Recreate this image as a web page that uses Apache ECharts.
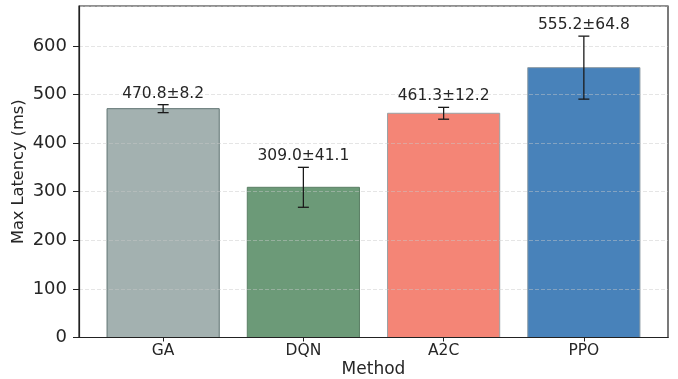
<!DOCTYPE html>
<html>
<head>
<meta charset="utf-8">
<script src="https://cdn.jsdelivr.net/npm/echarts@6/dist/echarts.min.js"></script>
<style>
html,body{margin:0;padding:0;background:#fff;}
#chart{width:678px;height:379px;}
</style>
</head>
<body>
<div id="chart"></div>
<script>
const categories = ['GA', 'DQN', 'A2C', 'PPO'];
const means = [470.8, 309.0, 461.3, 555.2];
const stds = [8.2, 41.1, 12.2, 64.8];
const barColors = ['#a3b1b0', '#6c9a78', '#f48576', '#4882ba'];
const borderColors = ['#5f7472', '#5b7f65', '#9aa2a5', '#8d9ba4'];
const yTicks = [0, 100, 200, 300, 400, 500, 600];

const FONT = 'DejaVu Sans';
const TXT = '#262626';

const data = categories.map((c, i) => [i, means[i], stds[i]]);

const chart = echarts.init(document.getElementById('chart'), null, {renderer: 'canvas'});

chart.setOption({
  animation: false,
  backgroundColor: '#fff',
  grid: {left: 79, right: 10, top: 6, bottom: 41.5, show: true, borderColor: '#222', borderWidth: 1.2,
    backgroundColor: 'transparent', containLabel: false, outerBoundsMode: 'none'},
  xAxis: {
    type: 'value', min: -0.6, max: 3.6, z: 11,
    name: 'Method', nameLocation: 'middle', nameGap: 24, nameMoveOverlap: false,
    nameTextStyle: {fontFamily: FONT, fontSize: 17, color: TXT},
    axisLine: {show: true, onZero: false, lineStyle: {color: '#222', width: 1.2}},
    axisTick: {show: true, customValues: [0, 1, 2, 3], length: 4, lineStyle: {color: '#222'}},
    axisLabel: {customValues: [0, 1, 2, 3], formatter: v => categories[Math.round(v)] || '', fontFamily: FONT, fontSize: 15.5, color: TXT, margin: 5},
    splitLine: {show: false}
  },
  yAxis: {
    type: 'value', min: 0, max: 682, interval: 100, z: 10,
    name: 'Max Latency (ms)', nameLocation: 'middle', nameGap: 52, nameMoveOverlap: false,
    nameTextStyle: {fontFamily: FONT, fontSize: 16.2, color: TXT},
    axisLine: {show: true, onZero: false, lineStyle: {color: '#222', width: 1.2}},
    axisTick: {show: true, length: 6, lineStyle: {color: '#222'}},
    axisLabel: {fontFamily: FONT, fontSize: 18, color: TXT, margin: 12, showMaxLabel: false,
      formatter: v => yTicks.indexOf(v) >= 0 ? String(v) : ''},
    splitLine: {show: true, lineStyle: {color: 'rgba(200,200,200,0.6)', width: 0.8, type: [4, 2]}}
  },
  series: [
    {
      type: 'custom', z: 2,
      data: data,
      renderItem: (params, api) => {
        const x = api.value(0), m = api.value(1);
        const p0 = api.coord([x - 0.4, m]);
        const p1 = api.coord([x + 0.4, 0]);
        const i = params.dataIndex;
        return {
          type: 'rect',
          shape: {x: p0[0], y: p0[1], width: p1[0] - p0[0], height: p1[1] - p0[1]},
          style: {fill: barColors[i], stroke: borderColors[i], lineWidth: 1}
        };
      }
    },
    {
      type: 'custom', z: 12,
      data: data,
      renderItem: (params, api) => {
        const x = api.value(0), m = api.value(1), s = api.value(2);
        const hi = api.coord([x, m + s]);
        const lo = api.coord([x, m - s]);
        const cw = 5.5;
        const ls = {stroke: '#1a1a1a', lineWidth: 1.3};
        return {
          type: 'group',
          children: [
            {type: 'line', shape: {x1: hi[0], y1: hi[1], x2: lo[0], y2: lo[1]}, style: ls},
            {type: 'line', shape: {x1: hi[0] - cw, y1: hi[1], x2: hi[0] + cw, y2: hi[1]}, style: ls},
            {type: 'line', shape: {x1: lo[0] - cw, y1: lo[1], x2: lo[0] + cw, y2: lo[1]}, style: ls},
            {type: 'text', x: hi[0], y: hi[1] - 3,
              style: {text: means[params.dataIndex].toFixed(1) + '±' + stds[params.dataIndex].toFixed(1),
                fill: TXT, font: '15.5px "DejaVu Sans"', align: 'center', verticalAlign: 'bottom'}}
          ]
        };
      }
    }
  ]
});
</script>
</body>
</html>
